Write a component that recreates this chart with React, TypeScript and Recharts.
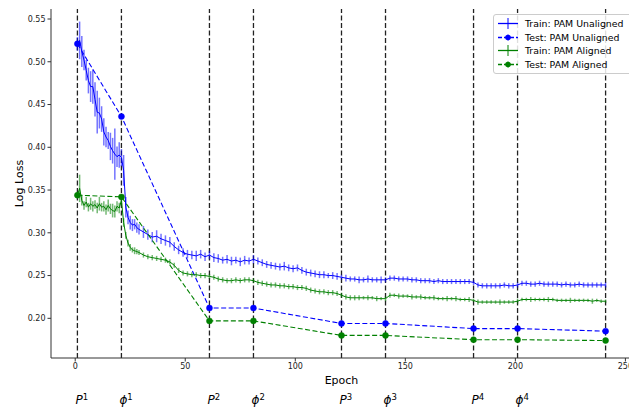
import React from 'react';
import {
  LineChart,
  Line,
  XAxis,
  YAxis,
  ErrorBar,
  ReferenceLine,
  Legend
} from 'recharts';

const FONT = '"DejaVu Sans", sans-serif';
const BLUE = '#0000ff';
const GREEN = '#008000';

// epochs 1..29 every epoch, then every other epoch up to 241
const trainEpochs: number[] = [];
for (let e = 1; e <= 29; e++) trainEpochs.push(e);
for (let e = 31; e <= 241; e += 2) trainEpochs.push(e);

const trainUnaligned = [
  0.521, 0.525, 0.512, 0.502, 0.490, 0.478, 0.471, 0.471, 0.456, 0.441,
  0.440, 0.433, 0.418, 0.412, 0.408, 0.401, 0.396, 0.392, 0.389, 0.391,
  0.388, 0.373, 0.330, 0.318, 0.312, 0.309, 0.310, 0.306, 0.304,
  // 31..49
  0.301, 0.298, 0.295, 0.296, 0.293, 0.291, 0.289, 0.284, 0.280, 0.277,
  // 51..69
  0.275, 0.274, 0.273, 0.275, 0.272, 0.274, 0.271, 0.270, 0.268, 0.269,
  // 71..89
  0.267, 0.268, 0.266, 0.268, 0.267, 0.269, 0.267, 0.265, 0.263, 0.262,
  // 91..109
  0.261, 0.260, 0.261, 0.259, 0.258, 0.259, 0.256, 0.254, 0.253, 0.252,
  // 111..129
  0.251, 0.251, 0.250, 0.250, 0.249, 0.248, 0.247, 0.246, 0.246, 0.245,
  // 131..149
  0.245, 0.246, 0.245, 0.245, 0.245, 0.245, 0.247, 0.247, 0.246, 0.246,
  // 151..169
  0.246, 0.245, 0.245, 0.244, 0.244, 0.244, 0.243, 0.244, 0.243, 0.243,
  // 171..189
  0.243, 0.243, 0.243, 0.243, 0.243, 0.242, 0.239, 0.238, 0.238, 0.238,
  // 191..209
  0.238, 0.238, 0.239, 0.238, 0.238, 0.239, 0.241, 0.241, 0.240, 0.240,
  // 211..229
  0.241, 0.240, 0.240, 0.240, 0.240, 0.239, 0.240, 0.239, 0.239, 0.240,
  // 231..241
  0.239, 0.239, 0.239, 0.239, 0.239, 0.239
];

const trainUnalignedErr = [
  0.008, 0.022, 0.018, 0.012, 0.012, 0.015, 0.018, 0.020, 0.020, 0.025,
  0.018, 0.015, 0.016, 0.012, 0.010, 0.016, 0.015, 0.030, 0.012, 0.015,
  0.010, 0.018, 0.012, 0.008, 0.008, 0.007, 0.006, 0.006, 0.006,
  0.007, 0.006, 0.006, 0.007, 0.006, 0.006, 0.006, 0.005, 0.005, 0.005,
  0.005, 0.005, 0.006, 0.005, 0.005, 0.005, 0.005, 0.005, 0.004, 0.005,
  0.005, 0.004, 0.005, 0.005, 0.004, 0.005, 0.004, 0.004, 0.004, 0.004,
  0.004, 0.004, 0.005, 0.004, 0.004, 0.004, 0.004, 0.004, 0.004, 0.004,
  0.004, 0.004, 0.003, 0.004, 0.004, 0.003, 0.004, 0.003, 0.003, 0.004,
  0.003, 0.004, 0.003, 0.003, 0.004, 0.003, 0.003, 0.003, 0.003, 0.003,
  0.003, 0.003, 0.003, 0.003, 0.003, 0.003, 0.003, 0.003, 0.003, 0.003,
  0.003, 0.003, 0.003, 0.003, 0.003, 0.003, 0.003, 0.003, 0.003, 0.003,
  0.003, 0.003, 0.003, 0.003, 0.003, 0.003, 0.003, 0.003, 0.003, 0.003,
  0.003, 0.003, 0.003, 0.003, 0.003, 0.003, 0.003, 0.003, 0.003, 0.003,
  0.003, 0.003, 0.003, 0.003, 0.003, 0.003
];

const trainAligned = [
  0.344, 0.352, 0.338, 0.332, 0.336, 0.330, 0.334, 0.331, 0.333, 0.329,
  0.334, 0.330, 0.331, 0.327, 0.332, 0.328, 0.326, 0.325, 0.331, 0.329,
  0.338, 0.312, 0.297, 0.288, 0.283, 0.280, 0.279, 0.278, 0.277,
  // 31..49
  0.274, 0.272, 0.271, 0.270, 0.269, 0.268, 0.266, 0.262, 0.256, 0.253,
  // 51..69
  0.252, 0.251, 0.251, 0.250, 0.250, 0.249, 0.248, 0.246, 0.245, 0.244,
  // 71..89
  0.244, 0.245, 0.244, 0.245, 0.245, 0.244, 0.242, 0.241, 0.240, 0.239,
  // 91..109
  0.239, 0.238, 0.238, 0.237, 0.237, 0.236, 0.236, 0.235, 0.233, 0.232,
  // 111..129
  0.231, 0.231, 0.230, 0.230, 0.229, 0.227, 0.225, 0.224, 0.224, 0.224,
  // 131..149
  0.224, 0.224, 0.224, 0.223, 0.223, 0.223, 0.227, 0.227, 0.226, 0.226,
  // 151..169
  0.226, 0.225, 0.225, 0.225, 0.224, 0.224, 0.224, 0.223, 0.223, 0.223,
  // 171..189
  0.223, 0.223, 0.222, 0.222, 0.222, 0.221, 0.219, 0.219, 0.219, 0.219,
  // 191..209
  0.219, 0.219, 0.219, 0.219, 0.219, 0.220, 0.222, 0.222, 0.222, 0.222,
  // 211..229
  0.222, 0.222, 0.222, 0.222, 0.221, 0.221, 0.221, 0.221, 0.221, 0.221,
  // 231..241
  0.221, 0.221, 0.220, 0.221, 0.220, 0.220
];

const trainAlignedErr = [
  0.004, 0.016, 0.006, 0.005, 0.006, 0.005, 0.007, 0.006, 0.005, 0.006,
  0.008, 0.005, 0.006, 0.006, 0.007, 0.006, 0.008, 0.007, 0.006, 0.006,
  0.005, 0.005, 0.004, 0.004, 0.004, 0.003, 0.004, 0.003, 0.003,
  0.003, 0.003, 0.003, 0.003, 0.003, 0.003, 0.003, 0.003, 0.003, 0.003,
  0.003, 0.003, 0.003, 0.003, 0.003, 0.003, 0.003, 0.003, 0.003, 0.003,
  0.003, 0.003, 0.003, 0.003, 0.003, 0.003, 0.003, 0.003, 0.003, 0.003,
  0.003, 0.003, 0.003, 0.003, 0.003, 0.003, 0.003, 0.003, 0.003, 0.003,
  0.003, 0.003, 0.003, 0.003, 0.003, 0.003, 0.003, 0.003, 0.003, 0.003,
  0.002, 0.003, 0.002, 0.003, 0.002, 0.003, 0.003, 0.002, 0.003, 0.002,
  0.002, 0.003, 0.002, 0.003, 0.002, 0.002, 0.003, 0.002, 0.002, 0.003,
  0.002, 0.003, 0.002, 0.002, 0.003, 0.002, 0.003, 0.002, 0.002, 0.002,
  0.002, 0.003, 0.002, 0.002, 0.002, 0.003, 0.002, 0.002, 0.003, 0.002,
  0.002, 0.002, 0.003, 0.002, 0.002, 0.002, 0.002, 0.003, 0.002, 0.002,
  0.002, 0.002, 0.003, 0.002, 0.002, 0.002
];

const testEpochs = [1, 21, 61, 81, 121, 141, 181, 201, 241];
const testUnaligned = [0.521, 0.436, 0.212, 0.212, 0.194, 0.194, 0.188, 0.188, 0.185];
const testAligned = [0.344, 0.342, 0.197, 0.197, 0.180, 0.180, 0.175, 0.175, 0.174];

const phaseEpochs = [1, 21, 61, 81, 121, 141, 181, 201, 241];
const phaseNames = ['P', 'ϕ', 'P', 'ϕ', 'P', 'ϕ', 'P', 'ϕ', ''];
const phaseSups = ['1', '1', '2', '2', '3', '3', '4', '4', ''];

const xTicks = [0, 50, 100, 150, 200, 250];
const yTicks = [0.2, 0.25, 0.3, 0.35, 0.4, 0.45, 0.5, 0.55];

const legendItems = [
  { label: 'Train: PAM Unaligned', color: BLUE, test: false },
  { label: 'Test: PAM Unaligned', color: BLUE, test: true },
  { label: 'Train: PAM Aligned', color: GREEN, test: false },
  { label: 'Test: PAM Aligned', color: GREEN, test: true }
];

const trainData = trainEpochs.map((epoch, i) => ({
  epoch,
  unaligned: trainUnaligned[i],
  unalignedErr: trainUnalignedErr[i],
  aligned: trainAligned[i],
  alignedErr: trainAlignedErr[i]
}));

const testUnalignedData = testEpochs.map((epoch, i) => ({ epoch, value: testUnaligned[i] }));
const testAlignedData = testEpochs.map((epoch, i) => ({ epoch, value: testAligned[i] }));

const PhaseLabel = (props: any) => {
  const { viewBox, name, sup } = props;
  if (!viewBox || !name) return null;
  const x = viewBox.x - 2;
  const y = viewBox.y + viewBox.height + 46;
  return (
    <text x={x} y={y} fontFamily={FONT} fontSize={12} fill="#000">
      <tspan fontStyle="italic">{name}</tspan>
      <tspan fontSize={8.5} dy={-4.5}>{sup}</tspan>
    </text>
  );
};

const LegendBox = () => (
  <div
    style={{
      border: '1px solid #cccccc',
      borderRadius: 3,
      background: 'rgba(255,255,255,0.85)',
      padding: '2px 4px 2px 3px',
      fontFamily: FONT,
      fontSize: 9.4,
      color: '#000',
      width: 136
    }}
  >
    {legendItems.map((item) => (
      <div key={item.label} style={{ display: 'flex', alignItems: 'center', height: 13.5 }}>
        <svg width={22} height={13} style={{ marginRight: 6, flexShrink: 0 }}>
          <line
            x1={1}
            x2={21}
            y1={6.5}
            y2={6.5}
            stroke={item.color}
            strokeWidth={1.3}
            strokeDasharray={item.test ? '4 2' : undefined}
          />
          <line x1={11} x2={11} y1={item.test ? 3.5 : 1} y2={item.test ? 9.5 : 12} stroke={item.color} strokeWidth={1} />
          {item.test && <circle cx={11} cy={6.5} r={2.8} fill={item.color} />}
        </svg>
        <span style={{ whiteSpace: 'nowrap' }}>{item.label}</span>
      </div>
    ))}
  </div>
);

export default function App() {
  return (
    <div
      style={{
        position: 'absolute',
        left: 0,
        top: 0,
        width: 629,
        height: 407,
        overflow: 'hidden',
        background: '#fff'
      }}
    >
      <LineChart width={640} height={407} data={trainData} margin={{ top: 9, right: 8, bottom: 19, left: 5 }}>
        <XAxis
          dataKey="epoch"
          type="number"
          domain={[-11, 253]}
          ticks={xTicks}
          allowDataOverflow
          height={30}
          tickSize={3.5}
          tickMargin={2}
          stroke="#333"
          tick={{ fontSize: 8, fontFamily: FONT, fill: '#222' }}
          label={{ value: 'Epoch', position: 'insideBottom', offset: 4, style: { fontSize: 11, fontFamily: FONT, fill: '#000' } }}
        />
        <XAxis
          xAxisId="top"
          orientation="top"
          type="number"
          domain={[-11, 253]}
          height={0}
          tick={false}
          tickLine={false}
          stroke="#333"
        />
        <YAxis
          type="number"
          domain={[0.1536, 0.5617]}
          ticks={yTicks}
          allowDataOverflow
          width={46}
          tickSize={3.5}
          tickMargin={2}
          stroke="#333"
          tickFormatter={(v: number) => v.toFixed(2)}
          tick={{ fontSize: 8, fontFamily: FONT, fill: '#222' }}
          label={{
            value: 'Log Loss',
            angle: -90,
            position: 'insideLeft',
            offset: 14,
            style: { fontSize: 11, fontFamily: FONT, fill: '#000', textAnchor: 'middle' }
          }}
        />
        {phaseEpochs.map((e, i) => (
          <ReferenceLine
            key={'phase-' + e}
            x={e}
            stroke="#222"
            strokeWidth={1.3}
            strokeDasharray="5 2.5"
            label={<PhaseLabel name={phaseNames[i]} sup={phaseSups[i]} />}
          />
        ))}
        <Line
          dataKey="unaligned"
          stroke={BLUE}
          strokeWidth={1}
          dot={false}
          isAnimationActive={false}
        >
          <ErrorBar dataKey="unalignedErr" direction="y" width={0} stroke={BLUE} strokeOpacity={0.55} strokeWidth={1.5} isAnimationActive={false} />
        </Line>
        <Line
          data={testUnalignedData}
          dataKey="value"
          stroke={BLUE}
          strokeWidth={1.1}
          strokeDasharray="5 2.5"
          dot={{ r: 3, fill: BLUE, stroke: BLUE, strokeWidth: 0.5, strokeDasharray: '' }}
          isAnimationActive={false}
        />
        <Line
          dataKey="aligned"
          stroke={GREEN}
          strokeWidth={1}
          dot={false}
          isAnimationActive={false}
        >
          <ErrorBar dataKey="alignedErr" direction="y" width={0} stroke={GREEN} strokeOpacity={0.55} strokeWidth={1.5} isAnimationActive={false} />
        </Line>
        <Line
          data={testAlignedData}
          dataKey="value"
          stroke={GREEN}
          strokeWidth={1.1}
          strokeDasharray="5 2.5"
          dot={{ r: 3, fill: GREEN, stroke: GREEN, strokeWidth: 0.5, strokeDasharray: '' }}
          isAnimationActive={false}
        />
        <Legend
          layout="horizontal"
          verticalAlign="middle"
          align="center"
          content={() => <LegendBox />}
          wrapperStyle={{ position: 'absolute', top: 14, left: 493, width: 'auto', height: 'auto' }}
        />
      </LineChart>
    </div>
  );
}
